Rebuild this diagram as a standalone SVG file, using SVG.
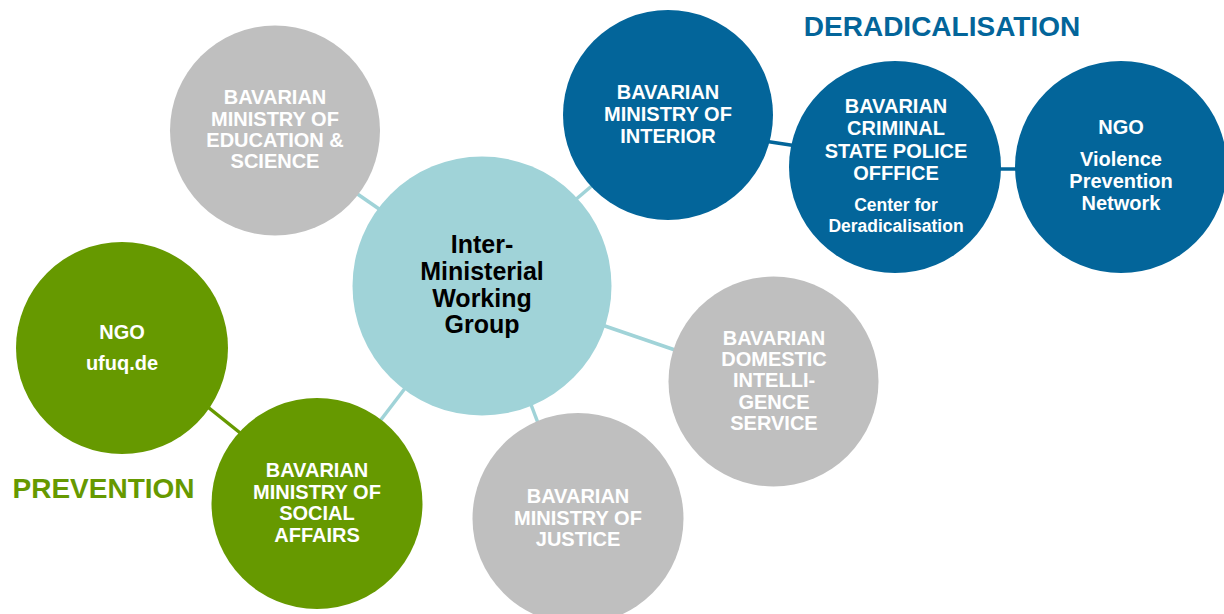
<svg xmlns="http://www.w3.org/2000/svg" width="1224" height="614" viewBox="0 0 1224 614">
  <style>
    .grey { fill: #BFBFBF; }
    .core { fill: #A0D3D8; }
    .blue { fill: #03659A; }
    .green { fill: #669900; }
    .lbl { font-family: "Liberation Sans", Arial, sans-serif; font-weight: bold; fill: #FFFFFF; text-anchor: middle; font-size: 20px; }
    .sub { font-size: 17.5px; }
    .core-lbl { font-family: "Liberation Sans", Arial, sans-serif; font-weight: bold; fill: #000000; text-anchor: middle; font-size: 25px; }
    .title { font-family: "Liberation Sans", Arial, sans-serif; font-weight: bold; font-size: 28px; text-anchor: middle; }
    .link-core { stroke: #A0D3D8; stroke-width: 3.5; fill: none; }
    .link-blue { stroke: #03659A; stroke-width: 3.5; fill: none; }
    .link-green { stroke: #669900; stroke-width: 3.5; fill: none; }
  </style>

  <rect width="1224" height="614" fill="#FFFFFF"/>

  <!-- connectors -->
  <g id="connectors">
    <line class="link-core" x1="356" y1="193" x2="382" y2="211"/>
    <line class="link-core" x1="574" y1="201" x2="594" y2="184"/>
    <line class="link-core" x1="602" y1="325" x2="675" y2="350"/>
    <line class="link-core" x1="530" y1="402" x2="538" y2="423"/>
    <line class="link-core" x1="406" y1="387" x2="380" y2="421"/>
    <line class="link-blue" x1="764" y1="141" x2="797" y2="146"/>
    <line class="link-blue" x1="995" y1="169" x2="1021" y2="169"/>
    <line class="link-green" x1="204" y1="404" x2="244" y2="436"/>
  </g>

  <!-- central node -->
  <g id="working-group">
    <circle class="core" cx="482" cy="286" r="129.5"/>
    <text class="core-lbl" x="482" y="253">Inter-</text>
    <text class="core-lbl" x="482" y="280">Ministerial</text>
    <text class="core-lbl" x="482" y="307">Working</text>
    <text class="core-lbl" x="482" y="333">Group</text>
  </g>

  <g id="education">
    <circle class="grey" cx="275" cy="130.5" r="105"/>
    <text class="lbl" x="275" y="104">BAVARIAN</text>
    <text class="lbl" x="275" y="126">MINISTRY OF</text>
    <text class="lbl" x="275" y="147">EDUCATION &amp;</text>
    <text class="lbl" x="275" y="168">SCIENCE</text>
  </g>

  <g id="interior">
    <circle class="blue" cx="668" cy="115" r="105"/>
    <text class="lbl" x="668" y="99">BAVARIAN</text>
    <text class="lbl" x="668" y="121">MINISTRY OF</text>
    <text class="lbl" x="668" y="143">INTERIOR</text>
  </g>

  <g id="criminal-police">
    <circle class="blue" cx="895" cy="167" r="106"/>
    <text class="lbl" x="896" y="113">BAVARIAN</text>
    <text class="lbl" x="896" y="135">CRIMINAL</text>
    <text class="lbl" x="896" y="158">STATE POLICE</text>
    <text class="lbl" x="896" y="180">OFFFICE</text>
    <text class="lbl sub" x="896" y="211">Center for</text>
    <text class="lbl sub" x="896" y="232">Deradicalisation</text>
  </g>

  <g id="ngo-vpn">
    <circle class="blue" cx="1121" cy="167" r="106"/>
    <text class="lbl" x="1121" y="134">NGO</text>
    <text class="lbl" x="1121" y="166">Violence</text>
    <text class="lbl" x="1121" y="188">Prevention</text>
    <text class="lbl" x="1121" y="210">Network</text>
  </g>

  <g id="domestic-intelligence">
    <circle class="grey" cx="773.5" cy="381.5" r="105"/>
    <text class="lbl" x="774" y="345">BAVARIAN</text>
    <text class="lbl" x="774" y="366">DOMESTIC</text>
    <text class="lbl" x="774" y="387">INTELLI-</text>
    <text class="lbl" x="774" y="409">GENCE</text>
    <text class="lbl" x="774" y="430">SERVICE</text>
  </g>

  <g id="justice">
    <circle class="grey" cx="578" cy="518.5" r="105.5"/>
    <text class="lbl" x="578" y="503">BAVARIAN</text>
    <text class="lbl" x="578" y="525">MINISTRY OF</text>
    <text class="lbl" x="578" y="546">JUSTICE</text>
  </g>

  <g id="social-affairs">
    <circle class="green" cx="317" cy="503.5" r="105.5"/>
    <text class="lbl" x="317" y="477">BAVARIAN</text>
    <text class="lbl" x="317" y="499">MINISTRY OF</text>
    <text class="lbl" x="317" y="520">SOCIAL</text>
    <text class="lbl" x="317" y="542">AFFAIRS</text>
  </g>

  <g id="ngo-ufuq">
    <circle class="green" cx="122" cy="348" r="106"/>
    <text class="lbl" x="122" y="339">NGO</text>
    <text class="lbl" x="122" y="370">ufuq.de</text>
  </g>

  <!-- group headings -->
  <text class="title" x="942" y="36" fill="#03659A">DERADICALISATION</text>
  <text class="title" x="103.5" y="498" fill="#669900">PREVENTION</text>
</svg>
